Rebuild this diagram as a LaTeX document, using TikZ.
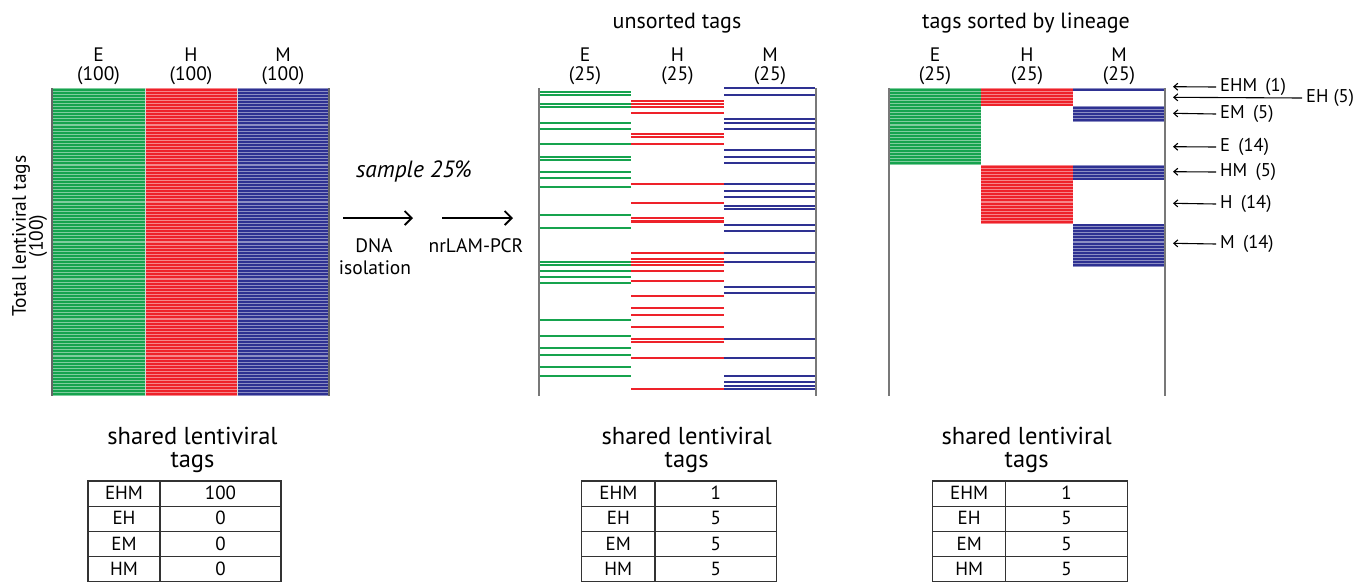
\documentclass[tikz,border=0pt]{standalone}
\usepackage{fontspec}
\setmainfont{PT Sans}
\usetikzlibrary{arrows.meta}
\definecolor{cg}{RGB}{22,163,78}
\definecolor{cr}{RGB}{238,34,42}
\definecolor{cb}{RGB}{46,49,146}
\definecolor{edge}{RGB}{120,120,120}
\newcommand\stripeblock[5]{%
  \fill[#1!55] (#2,{88+3.08*#4}) rectangle (#3,{88+3.08*(#5+1)});
  \foreach \r in {#4,...,#5}{\draw[#1,line width=2.0pt] (#2,{88+3.08*(\r+0.5)}) -- (#3,{88+3.08*(\r+0.5)});}%
}
\newcommand\fs[1]{\fontsize{#1}{#1}\selectfont}
\tikzset{
  lbl/.style={font=\fs{19.5}, inner sep=0pt, anchor=base},
  ttl/.style={font=\fs{22}, inner sep=0pt, anchor=base},
  stitle/.style={font=\fs{24.5}, inner sep=0pt, anchor=base},
  cell/.style={font=\fs{19}, inner sep=0pt, anchor=base},
  tab/.style={draw=black!80, line width=1.3pt},
  panel/.style={draw=edge, line width=1.4pt},
  bigarrow/.style={line width=1.8pt, -{Straight Barb[length=7pt,width=14pt,line width=1.8pt]}},
  smallarrow/.style={line width=1.1pt, -{Straight Barb[length=4pt,width=7pt,line width=1.1pt]}},
  alabel/.style={font=\fs{18.5}, inner sep=0pt, anchor=west},
}
\begin{document}
\begin{tikzpicture}[x=1pt,y=-1pt]
\useasboundingbox (0,0) rectangle (1369,582);
\fill[white] (0,0) rectangle (1369,582);

% ---------- left panel ----------
\stripeblock{cg}{52}{145}{0}{99}
\stripeblock{cr}{145}{237}{0}{99}
\stripeblock{cb}{237}{329}{0}{99}
\draw[white!85!black, line width=0.9pt] (145,88) -- (145,396);
\draw[white!85!black, line width=0.9pt] (237,88) -- (237,396);
\draw[panel, draw=black!60] (52,88) -- (52,396);
\draw[panel, draw=black!60] (329,88) -- (329,396);
\node[lbl] (lE) at (98.5,61) {E};
\node[lbl] (lE2) at (98.5,80) {(100)};
\node[lbl] (lH) at (191,61) {H};
\node[lbl] (lH2) at (191,80) {(100)};
\node[lbl] (lM) at (283,61) {M};
\node[lbl] (lM2) at (283,80) {(100)};
\node[font=\fs{19.5}, inner sep=0pt, rotate=90, anchor=center] (ylab) at (21,236) {Total lentiviral tags};
\node[font=\fs{19.5}, inner sep=0pt, rotate=90, anchor=center] (ylab2) at (38,236) {(100)};

% ---------- middle arrows ----------
\node[font=\fs{23.5}\itshape, inner sep=0pt, anchor=base] (samp) at (414,177) {sample 25\%};
\coordinate (a1s) at (343,218);
\coordinate (a1e) at (413,218);
\coordinate (a2s) at (442,218);
\coordinate (a2e) at (513,218);
\draw[bigarrow] (a1s) -- (a1e);
\draw[bigarrow] (a2s) -- (a2e);
\node[lbl] (dna) at (374,252) {DNA};
\node[lbl] (iso) at (375,274) {isolation};
\node[lbl] (lam) at (476,252) {nrLAM-PCR};

% ---------- middle panel ----------
\node[ttl] (t2) at (677,28) {unsorted tags};
\node[lbl] (mE) at (585,61) {E};
\node[lbl] (mE2) at (585,80) {(25)};
\node[lbl] (mH) at (677.5,61) {H};
\node[lbl] (mH2) at (677.5,80) {(25)};
\node[lbl] (mM) at (770,61) {M};
\node[lbl] (mM2) at (770,80) {(25)};
\foreach \y in {91.7,95,104,107,122.7,128.7,144,156.7,159.7,172,178,187.3,215.3,227.7,262,264.9,271.3,277.3,283.3,320.3,336,348.3,354.7,366.7,376}
  {\draw[cg,line width=2.1pt] (540,\y) -- (631,\y);}
\foreach \y in {101,104,107,113.3,134.3,137.3,144,184.3,203,218.3,221.5,252.7,258.7,261.7,264.7,271.3,280.7,296,308.3,314.7,327,339.3,342.3,357.7,388.7}
  {\draw[cr,line width=2.1pt] (631,\y) -- (724,\y);}
\foreach \y in {88.3,95,119.3,122.7,128.7,150.3,156.7,162.7,184.3,190.7,196.7,206,209.3,224.7,231,252.7,262,286.7,292.7,339.3,358,376.3,382.3,385.6,388.7}
  {\draw[cb,line width=1.9pt] (724,\y) -- (815,\y);}
\draw[panel] (539,88) -- (539,396);
\draw[panel] (816,88) -- (816,396);

% ---------- right panel ----------
\node[ttl] (t3) at (1026,28) {tags sorted by lineage};
\node[lbl] (rE) at (935,61) {E};
\node[lbl] (rE2) at (935,80) {(25)};
\node[lbl] (rH) at (1027,61) {H};
\node[lbl] (rH2) at (1027,80) {(25)};
\node[lbl] (rM) at (1119,61) {M};
\node[lbl] (rM2) at (1119,80) {(25)};
\stripeblock{cg}{889}{981}{0}{24}
\stripeblock{cr}{981}{1073}{0}{5}
\stripeblock{cr}{981}{1073}{25}{43}
\stripeblock{cb}{1073}{1165}{0}{0}
\stripeblock{cb}{1073}{1165}{6}{10}
\stripeblock{cb}{1073}{1165}{25}{29}
\stripeblock{cb}{1073}{1165}{44}{57}
\draw[panel] (889,88) -- (889,396);
\draw[panel] (1165,88) -- (1165,396);

% arrow labels
\node[alabel] (ehm) at (1220,87) {EHM\hspace{0.45em}(1)};
\node[alabel] (eh) at (1306,98) {EH (5)};
\node[alabel] (em) at (1220,114) {EM\hspace{0.45em}(5)};
\node[alabel] (e) at (1220,147) {E\hspace{0.45em}(14)};
\node[alabel] (hm) at (1220,172) {HM\hspace{0.45em}(5)};
\node[alabel] (h) at (1220,204) {H\hspace{0.45em}(14)};
\node[alabel] (m) at (1220,244) {M\hspace{0.45em}(14)};
\foreach \n/\y in {ehm/86.7,em/113.3,e/146.7,hm/171.7,h/203.3,m/243.3}{
  \coordinate (\n-tip) at (1173,\y);
  \draw[smallarrow] (\n.west) ++(-4,0) -- (\n-tip);
}
\coordinate (eh-tip) at (1173,97.3);
\draw[smallarrow] (eh.west) ++(-4,0) -- (eh-tip);

% ---------- tables ----------
\foreach \px/\pt/\xa/\xs/\xb/\va/\vb/\vc/\vd in {
  L/192.5/88/160/281/100/0/0/0,
  C/686.7/581.7/655/776.7/1/5/5/5,
  R/1026.7/932.7/1005.7/1127.3/1/5/5/5}{
  \node[stitle] (\px-st1) at (\pt,444) {shared lentiviral};
  \node[stitle] (\px-st2) at (\pt,467) {tags};
  \draw[tab] (\xa,481) rectangle (\xb,581.6);
  \draw[tab] (\xs,481) -- (\xs,581.6);
  \foreach \yy in {506.2,531.5,556.6} {\draw[tab] (\xa,\yy) -- (\xb,\yy);}
  \node[cell] (\px-k1) at ({(\xa+\xs)/2},499.5) {EHM};
  \node[cell] (\px-k2) at ({(\xa+\xs)/2},524.7) {EH};
  \node[cell] (\px-k3) at ({(\xa+\xs)/2},550) {EM};
  \node[cell] (\px-k4) at ({(\xa+\xs)/2},575.1) {HM};
  \node[cell] (\px-v1) at ({(\xs+\xb)/2},499.5) {\va};
  \node[cell] (\px-v2) at ({(\xs+\xb)/2},524.7) {\vb};
  \node[cell] (\px-v3) at ({(\xs+\xb)/2},550) {\vc};
  \node[cell] (\px-v4) at ({(\xs+\xb)/2},575.1) {\vd};
}
\end{tikzpicture}
\end{document}
